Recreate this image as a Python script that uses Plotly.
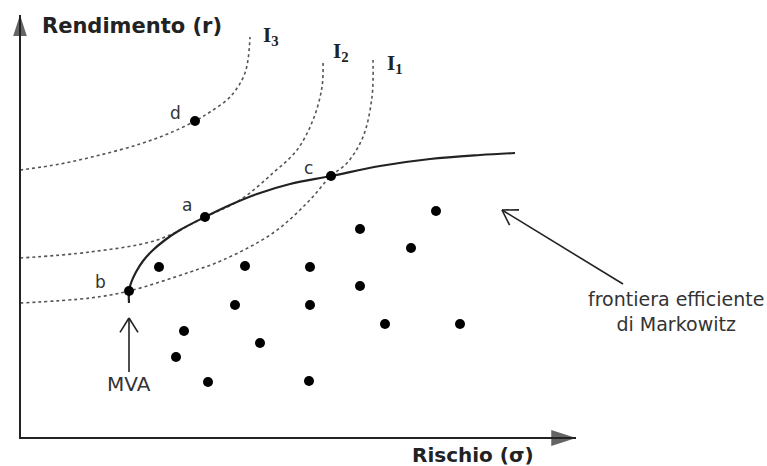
import math
import plotly.graph_objects as go

# ---- data (risk sigma, return r) in chart units ----
frontier_sigma = [109, 109, 111, 116, 123, 132, 145, 160, 185, 210, 237, 270, 311, 360, 410, 460, 495]
frontier_r = [135, 147, 155, 166, 177, 187, 198, 208, 221, 233, 244, 254, 262, 272, 279, 283, 285]

I1_sigma = [0, 70, 109, 170, 203, 253, 287, 311, 327, 343, 352, 353]
I1_r = [135, 140, 147, 166, 178, 205, 235, 262, 275, 301, 341, 378]
I2_sigma = [0, 70, 137, 185, 220, 253, 277, 293, 302, 303]
I2_r = [180, 186, 198, 221, 238, 265, 288, 318, 351, 378]
I3_sigma = [0, 40, 80, 120, 150, 175, 190, 210, 225, 230]
I3_r = [268, 274, 283, 294, 305, 317, 326, 341, 365, 401]

curve_labels = ["I<sub>1</sub>", "I<sub>2</sub>", "I<sub>3</sub>"]
curve_label_sigma = [375, 321, 251]
curve_label_r = [374, 386, 402]

named_labels = ["a", "b", "c", "d"]
named_sigma = [185, 109, 311, 175]
named_r = [221, 147, 262, 317]

port_sigma = [139, 225, 290, 340, 391, 416, 215, 290, 340, 164, 240, 156, 365, 440, 188, 289]
port_r = [171, 172, 171, 209, 190, 227, 133, 133, 152, 107, 95, 81, 114, 114, 56, 57]

mva_sigma = 109
mva_tail_r, mva_tip_r, mva_text_r = 66, 120, 54

front_tail = (603, 154)
front_tip = (482, 228)
front_text = "frontiera efficiente<br>di Markowitz"
front_text_pos = (656, 127)

axis_sigma_max = 556
axis_r_max = 423

INK = "#222222"
TXT = "#333333"
SANS = "DejaVu Sans, Arial, sans-serif"
SERIF = "Liberation Serif, DejaVu Serif, serif"


def open_arrow(tail, tip, head_len=17, half_angle_deg=32):
    """Shaft plus a thin open V head, as one polyline with gaps (chart units = px)."""
    dx, dy = tail[0] - tip[0], tail[1] - tip[1]
    base = math.atan2(dy, dx)
    xs = [tail[0], tip[0], None]
    ys = [tail[1], tip[1], None]
    for s in (-1, 1):
        a = base + s * math.radians(half_angle_deg)
        xs += [tip[0] + head_len * math.cos(a), tip[0], None]
        ys += [tip[1] + head_len * math.sin(a), tip[1], None]
    return xs, ys


fig = go.Figure()

# indifference curves
for xs, ys in [(I1_sigma, I1_r), (I2_sigma, I2_r), (I3_sigma, I3_r)]:
    fig.add_trace(go.Scatter(x=xs, y=ys, mode="lines",
                             line=dict(color="#555555", width=1.6, dash="dot", shape="spline", smoothing=1.0),
                             hoverinfo="skip", showlegend=False))

# efficient frontier
fig.add_trace(go.Scatter(x=frontier_sigma, y=frontier_r, mode="lines",
                         line=dict(color=INK, width=2.2, shape="spline", smoothing=1.0),
                         hoverinfo="skip", showlegend=False))

# portfolios
fig.add_trace(go.Scatter(x=port_sigma, y=port_r, mode="markers",
                         marker=dict(color="black", size=10),
                         hoverinfo="skip", showlegend=False))
fig.add_trace(go.Scatter(x=named_sigma, y=named_r, mode="markers",
                         marker=dict(color="black", size=10),
                         hoverinfo="skip", showlegend=False))

# axes
fig.add_trace(go.Scatter(x=[0, 0, axis_sigma_max], y=[axis_r_max, 0, 0], mode="lines",
                         line=dict(color=INK, width=2), hoverinfo="skip", showlegend=False))
fig.add_trace(go.Scatter(x=[0, axis_sigma_max], y=[axis_r_max, 0], mode="markers",
                         marker=dict(symbol="arrow", size=[22, 26], angle=[0, 90], color=INK,
                                     line=dict(width=0)),
                         hoverinfo="skip", showlegend=False))

# pointer arrows (thin open heads)
for tail, tip in [((mva_sigma, mva_tail_r), (mva_sigma, mva_tip_r)), (front_tail, front_tip)]:
    ax_, ay_ = open_arrow(tail, tip)
    fig.add_trace(go.Scatter(x=ax_, y=ay_, mode="lines", line=dict(color=INK, width=1.6),
                             hoverinfo="skip", showlegend=False))

ann = []
# axis titles
ann.append(dict(x=20, y=412, text="<b>Rendimento (r)</b>", showarrow=False, xanchor="left", yanchor="middle",
                font=dict(family=SANS, size=21, color=INK)))
ann.append(dict(x=390, y=-17, text="<b>Rischio (σ)</b>", showarrow=False, xanchor="left", yanchor="middle",
                font=dict(family=SANS, size=20, color=INK)))

# curve labels
for t, sx, ry in zip(curve_labels, curve_label_sigma, curve_label_r):
    ann.append(dict(x=sx, y=ry, text="<b>" + t + "</b>", showarrow=False,
                    font=dict(family=SERIF, size=21, color=INK)))

# point labels
offsets = {"a": (-18, 12), "b": (-29, 9), "c": (-23, 8), "d": (-20, 8)}
for t, sx, ry in zip(named_labels, named_sigma, named_r):
    dx, dy = offsets[t]
    ann.append(dict(x=sx, y=ry, text=t, showarrow=False, xshift=dx, yshift=dy,
                    font=dict(family=SANS, size=17, color=TXT)))

ann.append(dict(x=mva_sigma, y=mva_text_r, text="MVA", showarrow=False,
                font=dict(family=SANS, size=20, color=TXT)))
ann.append(dict(x=front_text_pos[0], y=front_text_pos[1], text=front_text, showarrow=False,
                font=dict(family=SANS, size=19, color=TXT)))

fig.update_layout(
    width=767, height=466,
    margin=dict(l=0, r=0, t=0, b=0),
    paper_bgcolor="white", plot_bgcolor="white",
    xaxis=dict(range=[-20, 747], visible=False, fixedrange=True),
    yaxis=dict(range=[-28, 438], visible=False, fixedrange=True),
    annotations=ann,
    showlegend=False,
)

fig.write_html("out.html", config={"displayModeBar": False},
               post_script="document.body.style.margin='0';document.body.style.overflow='hidden';")
